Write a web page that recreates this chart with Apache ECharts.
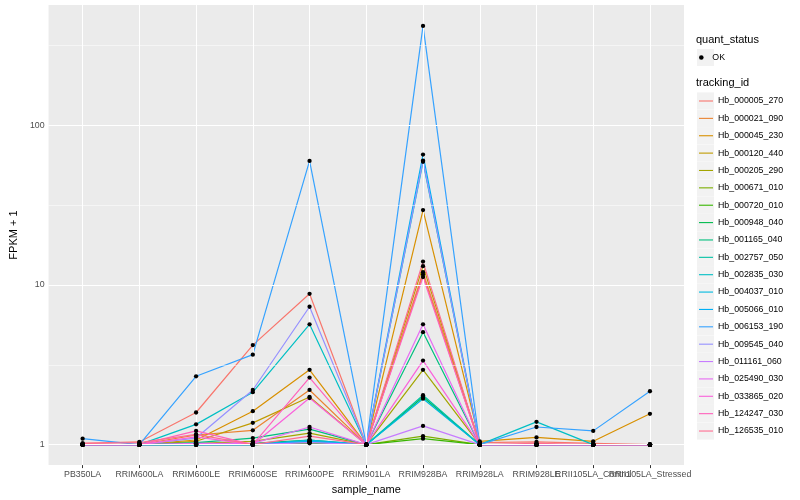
<!DOCTYPE html>
<html><head><meta charset="utf-8">
<script src="https://cdn.jsdelivr.net/npm/echarts@6/dist/echarts.min.js"></script>
<style>html,body{margin:0;padding:0;background:#fff}#c{width:800px;height:500px}</style>
</head><body><div id="c"></div><script>
// ---- data ----
const categories = ['PB350LA','RRIM600LA','RRIM600LE','RRIM600SE','RRIM600PE','RRIM901LA','RRIM928BA','RRIM928LA','RRIM928LE','RRII105LA_Control','RRII105LA_Stressed'];
const trackingIds = ['Hb_000005_270','Hb_000021_090','Hb_000045_230','Hb_000120_440','Hb_000205_290','Hb_000671_010','Hb_000720_010','Hb_000948_040','Hb_001165_040','Hb_002757_050','Hb_002835_030','Hb_004037_010','Hb_005066_010','Hb_006153_190','Hb_009545_040','Hb_011161_060','Hb_025490_030','Hb_033865_020','Hb_124247_030','Hb_126535_010'];
// FPKM + 1 per sample (same order as categories)
const hb_000005_270 = [1.02,1.04,1.59,4.2,8.8,1.0,12.0,1.03,1.04,1.02,1.0];
const hb_000021_090 = [1.0,1.0,1.15,1.23,2.2,1.0,11.6,1.0,1.0,1.0,1.0];
const hb_000045_230 = [1.0,1.0,1.07,1.62,2.94,1.0,29.4,1.05,1.11,1.05,1.56];
const hb_000120_440 = [1.0,1.0,1.05,1.37,1.99,1.0,13.1,1.0,1.0,1.0,1.0];
const hb_000205_290 = [1.0,1.0,1.02,1.05,1.18,1.0,2.94,1.0,1.0,1.0,1.0];
const hb_000671_010 = [1.0,1.0,1.0,1.0,1.03,1.0,1.13,1.0,1.0,1.0,1.0];
const hb_000720_010 = [1.0,1.0,1.0,1.0,1.02,1.0,1.09,1.0,1.0,1.0,1.0];
const hb_000948_040 = [1.0,1.0,1.0,1.02,1.07,1.0,1.99,1.0,1.0,1.0,1.0];
const hb_001165_040 = [1.0,1.0,1.03,1.10,1.25,1.0,5.06,1.0,1.0,1.0,1.0];
const hb_002757_050 = [1.0,1.0,1.0,1.0,1.05,1.0,2.04,1.0,1.0,1.0,1.0];
const hb_002835_030 = [1.0,1.0,1.34,2.13,5.67,1.0,59.0,1.0,1.39,1.0,1.0];
const hb_004037_010 = [1.0,1.0,1.0,1.0,1.07,1.0,1.94,1.0,1.0,1.0,1.0];
const hb_005066_010 = [1.0,1.0,1.0,1.0,1.05,1.0,65.4,1.0,1.0,1.0,1.0];
const hb_006153_190 = [1.09,1.0,2.68,3.66,59.7,1.0,418,1.0,1.29,1.22,2.16];
const hb_009545_040 = [1.0,1.0,1.1,2.2,7.3,1.0,60.0,1.0,1.0,1.0,1.0];
const hb_011161_060 = [1.0,1.0,1.0,1.0,1.03,1.0,1.31,1.0,1.0,1.0,1.0];
const hb_025490_030 = [1.0,1.0,1.02,1.02,1.29,1.0,5.67,1.0,1.0,1.0,1.0];
const hb_033865_020 = [1.0,1.0,1.12,1.0,1.96,1.0,3.36,1.0,1.0,1.0,1.0];
const hb_124247_030 = [1.0,1.0,1.22,1.0,2.63,1.0,11.2,1.0,1.0,1.0,1.0];
const hb_126535_010 = [1.02,1.03,1.16,1.0,1.13,1.0,14.0,1.0,1.02,1.0,1.0];
const seriesValues = [hb_000005_270,hb_000021_090,hb_000045_230,hb_000120_440,hb_000205_290,hb_000671_010,hb_000720_010,hb_000948_040,hb_001165_040,hb_002757_050,hb_002835_030,hb_004037_010,hb_005066_010,hb_006153_190,hb_009545_040,hb_011161_060,hb_025490_030,hb_033865_020,hb_124247_030,hb_126535_010];
const yTicks = [1, 10, 100];
const yMinorBreaks = [3.162, 31.62, 316.2];
// ---- style ----
const palette = ['#F8766D','#EA8331','#D89000','#C09B00','#A3A500','#7CAE00','#39B600','#00BB4E','#00BF7D','#00C1A3','#00BFC4','#00BAE0','#00B0F6','#35A2FF','#9590FF','#C77CFF','#E76BF3','#FA62DB','#FF62BC','#FF6C91'];
const FONT = '"Liberation Sans", Arial, Helvetica, sans-serif';
const P = {l:41, t:5, r:684, b:468};

const chart = echarts.init(document.getElementById('c'), null, {renderer:'canvas'});

const lineSeries = trackingIds.map((id,k)=>({
  type:'line', name:id, data: seriesValues[k].map((v,i)=>[i,v]),
  showSymbol:false, symbol:'none', silent:true, z:3,
  lineStyle:{color:palette[k], width:1.2}, itemStyle:{color:palette[k]},
  emphasis:{disabled:true}
}));
const points = [];
seriesValues.forEach(arr=>arr.forEach((v,i)=>points.push([i,v])));
const pointSeries = {type:'scatter', name:'OK', data:points, symbol:'circle', symbolSize:4.3,
  itemStyle:{color:'#000', opacity:1}, z:5, silent:true, emphasis:{disabled:true}};
const major = {color:'#FFFFFF', width:1.07, type:'solid'};
const minor = {color:'#FFFFFF', width:0.53, type:'solid'};
const gridSeries = {type:'line', name:'_grid', data:[], z:1, silent:true,
  markLine:{silent:true, symbol:['none','none'], label:{show:false}, animation:false,
    emphasis:{disabled:true},
    data:[].concat(
      yMinorBreaks.map(v=>({yAxis:v, lineStyle:minor})),
      yTicks.map(v=>({yAxis:v, lineStyle:major})),
      categories.map((c,i)=>({xAxis:i, lineStyle:major}))
    )}};

// legend key backgrounds
const keyBoxes = [];
keyBoxes.push({type:'rect', shape:{x:697, y:49, width:17, height:17}, style:{fill:'#F2F2F2'}, silent:true});
trackingIds.forEach((id,k)=>{
  keyBoxes.push({type:'rect', shape:{x:697, y:101 + k*17.37 - 8.6, width:17, height:17.2}, style:{fill:'#F2F2F2'}, silent:true});
});

const idx = categories.map((c,i)=>i);
const labelStyle = {margin:5, fontSize:8.8, color:'#4D4D4D', fontFamily:FONT, hideOverlap:false,
  formatter:v=>categories[Math.round(v)]};

chart.setOption({
  animation:false,
  backgroundColor:'#FFFFFF',
  textStyle:{fontFamily:FONT},
  grid:{left:P.l, top:P.t, width:P.r-P.l, height:P.b-P.t, show:true, backgroundColor:'#EBEBEB', borderWidth:0, containLabel:false},
  graphic: keyBoxes.map(g=>Object.assign(g,{z:-1})),
  title:[
    {text:'quant_status', left:696, top:34, padding:0, textStyle:{fontSize:11, fontWeight:'normal', color:'#000', fontFamily:FONT}},
    {text:'tracking_id', left:696, top:77, padding:0, textStyle:{fontSize:11, fontWeight:'normal', color:'#000', fontFamily:FONT}}
  ],
  legend:[
    {data:['OK'], orient:'vertical', left:699, top:51.5, padding:0, selectedMode:false,
     icon:'circle', itemWidth:12, itemHeight:4.6,
     textStyle:{fontSize:8.8, color:'#000', fontFamily:FONT, lineHeight:12}},
    {data:trackingIds, orient:'vertical', left:699, top:95, padding:0, itemGap:5.37, selectedMode:false,
     icon:'rect', itemWidth:14, itemHeight:1.1,
     textStyle:{fontSize:8.8, color:'#000', fontFamily:FONT, lineHeight:12}}
  ],
  xAxis:[
    {type:'value', min:-0.6, max:10.6,
     name:'sample_name', nameLocation:'middle', nameGap:15.5,
     nameTextStyle:{fontSize:11, color:'#000', fontFamily:FONT},
     axisLine:{show:false}, splitLine:{show:false},
     axisTick:{show:true, length:3, lineStyle:{color:'#333333', width:1}, customValues:idx},
     axisLabel:Object.assign({customValues:idx.filter(i=>i%2===0)}, labelStyle)
    },
    {type:'value', min:-0.6, max:10.6, position:'bottom',
     axisLine:{show:false}, splitLine:{show:false}, axisTick:{show:false},
     axisLabel:Object.assign({customValues:idx.filter(i=>i%2===1)}, labelStyle)
    }
  ],
  yAxis:{type:'log', logBase:10, min:0.745, max:565,
    name:'FPKM + 1', nameLocation:'middle', nameGap:24, nameRotate:90,
    nameTextStyle:{fontSize:11, color:'#000', fontFamily:FONT},
    axisLine:{show:false}, splitLine:{show:false}, minorSplitLine:{show:false},
    axisTick:{show:true, length:3, lineStyle:{color:'#333333', width:1}, customValues:yTicks},
    axisLabel:{customValues:yTicks, formatter:v=>String(v), margin:4, fontSize:8.8, color:'#4D4D4D', fontFamily:FONT}
  },
  series:[gridSeries].concat(lineSeries, [pointSeries])
});
</script></body></html>
